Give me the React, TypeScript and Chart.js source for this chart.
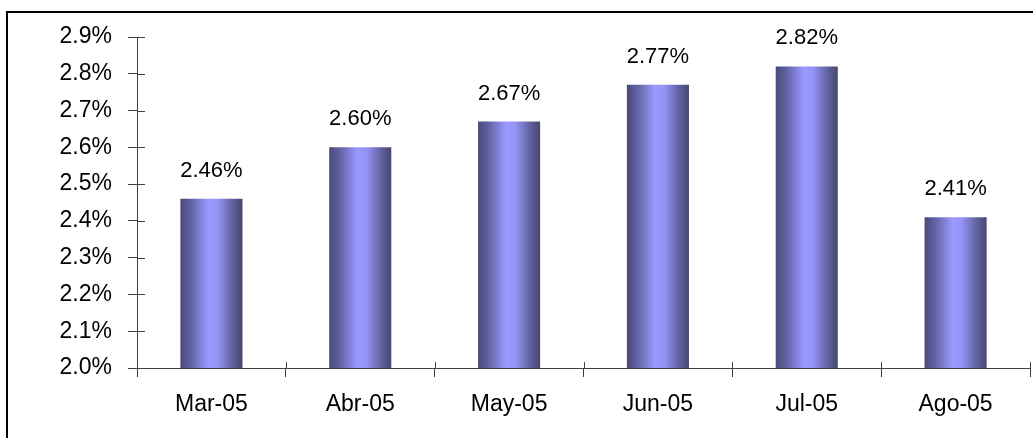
import React, { useEffect, useRef } from "react";
import { Chart, registerables } from "chart.js";

Chart.register(...registerables);

const categories = ["Mar-05", "Abr-05", "May-05", "Jun-05", "Jul-05", "Ago-05"];
const values = [2.46, 2.6, 2.67, 2.77, 2.82, 2.41];
const yMin = 2.0;
const yMax = 2.9;
const yStep = 0.1;

const BAR_PCT = 0.417;
const FONT = "'Liberation Sans', Arial, sans-serif";

const innerTicks = {
  id: "innerTicks",
  afterDraw(chart: any) {
    const { ctx, chartArea } = chart;
    const ys = chart.scales.y;
    const xs = chart.scales.x;
    ctx.save();
    ctx.strokeStyle = "#404040";
    ctx.lineWidth = 1;
    ctx.beginPath();
    ys.ticks.forEach((_t: any, i: number) => {
      const y = Math.round(ys.getPixelForTick(i)) + 0.5;
      ctx.moveTo(chartArea.left, y);
      ctx.lineTo(chartArea.left + 8, y);
    });
    const n = categories.length;
    for (let i = 0; i <= n; i++) {
      const x = Math.round(xs.left + (i * xs.width) / n) + 0.5;
      ctx.moveTo(x, chartArea.bottom);
      ctx.lineTo(x, chartArea.bottom - 6);
    }
    ctx.stroke();
    ctx.restore();
  },
};

const valueLabels = {
  id: "valueLabels",
  afterDatasetsDraw(chart: any) {
    const { ctx } = chart;
    const meta = chart.getDatasetMeta(0);
    ctx.save();
    ctx.fillStyle = "#000";
    ctx.font = `22px ${FONT}`;
    ctx.textAlign = "center";
    ctx.textBaseline = "alphabetic";
    meta.data.forEach((el: any, i: number) => {
      ctx.fillText(values[i].toFixed(2) + "%", el.x, el.y - 22);
    });
    ctx.restore();
  },
};

export default function App() {
  const ref = useRef<HTMLCanvasElement | null>(null);
  useEffect(() => {
    if (!ref.current) return;
    const chart = new Chart(ref.current, {
      type: "bar",
      data: {
        labels: categories,
        datasets: [
          {
            data: values,
            categoryPercentage: 1,
            barPercentage: BAR_PCT,
            borderWidth: 0,
            backgroundColor: (c: any) => {
              const ch = c.chart;
              const xs = ch.scales?.x;
              if (!ch.chartArea || !xs || c.dataIndex === undefined) return "#9999ff";
              const cx = xs.getPixelForValue(c.dataIndex);
              const w = (xs.width / categories.length) * BAR_PCT;
              const g = ch.ctx.createLinearGradient(cx - w / 2, 0, cx + w / 2, 0);
              g.addColorStop(0, "#4a4a7c");
              g.addColorStop(0.15, "#5e5e9e");
              g.addColorStop(0.45, "#9999ff");
              g.addColorStop(0.6, "#9494f6");
              g.addColorStop(0.85, "#5f5f9c");
              g.addColorStop(1, "#47476f");
              return g;
            },
          },
        ],
      },
      options: {
        animation: false,
        responsive: true,
        maintainAspectRatio: false,
        layout: { padding: { left: 0, top: 37, right: 3, bottom: 0 } },
        plugins: { legend: { display: false }, tooltip: { enabled: false } },
        scales: {
          x: {
            grid: {
              offset: true,
              drawOnChartArea: false,
              drawTicks: true,
              tickLength: 9,
              color: "#404040",
            },
            border: { display: true, color: "#404040", width: 1 },
            ticks: { color: "#000", font: { family: FONT, size: 23 }, padding: 14 },
            afterFit: (s: any) => {
              s.height = 70;
            },
          },
          y: {
            min: yMin,
            max: yMax,
            grid: {
              drawOnChartArea: false,
              drawTicks: true,
              tickLength: 9,
              color: "#404040",
            },
            border: { display: true, color: "#404040", width: 1 },
            ticks: {
              stepSize: yStep,
              color: "#000",
              font: { family: FONT, size: 23 },
              padding: 16,
              callback: (v: any) => Number(v).toFixed(1) + "%",
            },
            afterFit: (s: any) => {
              s.width = 137;
            },
          },
        },
      },
      plugins: [innerTicks, valueLabels],
    });
    return () => chart.destroy();
  }, []);

  return (
    <div
      style={{
        position: "absolute",
        left: 0,
        top: 0,
        width: 1033,
        height: 438,
        overflow: "hidden",
        background: "#fff",
      }}
    >
      <div
        style={{
          position: "absolute",
          left: 6,
          top: 11,
          width: 1100,
          height: 500,
          borderTop: "2px solid #000",
          borderLeft: "2px solid #000",
        }}
      />
      <canvas ref={ref} style={{ position: "absolute", left: 0, top: 0, width: 1033, height: 438 }} />
    </div>
  );
}
